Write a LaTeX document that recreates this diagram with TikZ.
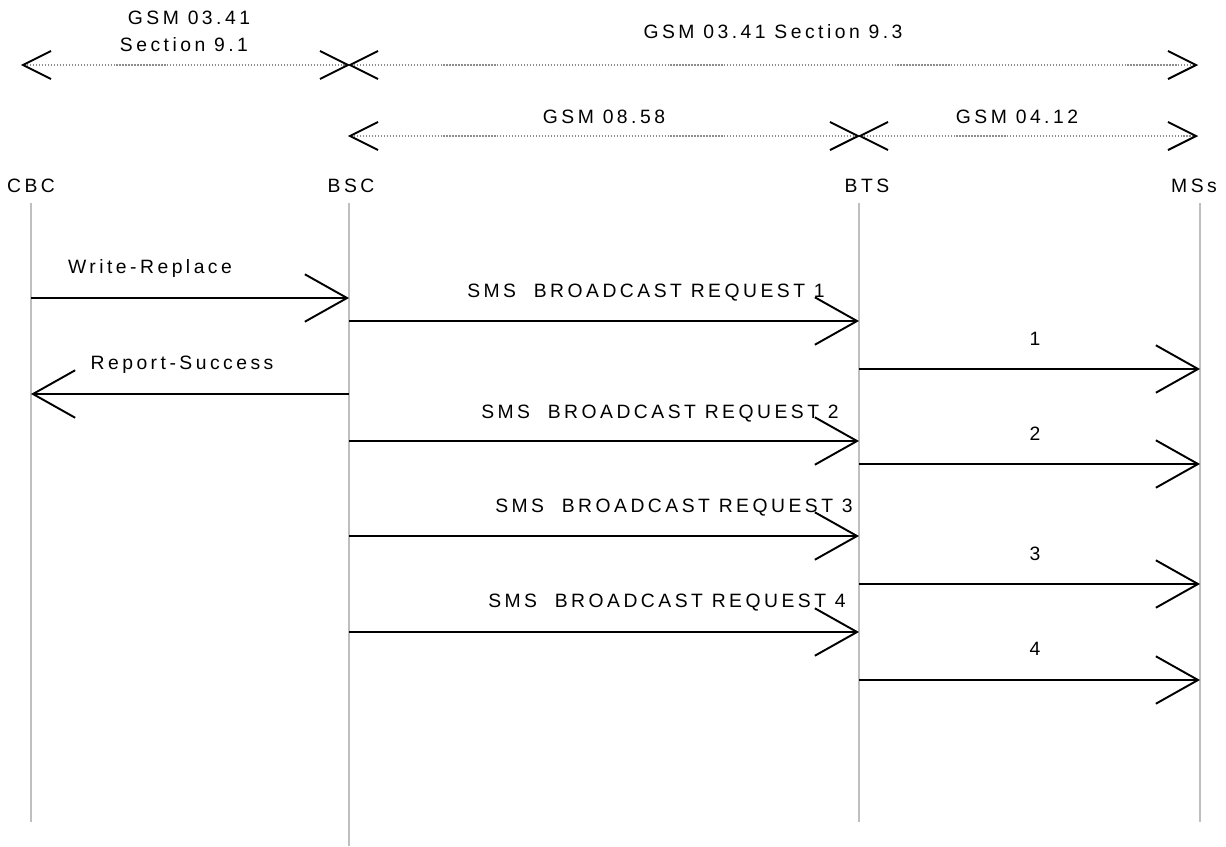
\documentclass[tikz,border=0pt]{standalone}
\usepackage{fontspec}
\setmainfont{Liberation Sans}[LetterSpace=18]
\usetikzlibrary{arrows.meta}

\begin{document}
\begin{tikzpicture}[x=0.02cm,y=-0.02cm,
    font=\fontsize{11}{13}\selectfont,
    entity/.style={anchor=base,inner sep=0pt},
    lbl/.style={anchor=base,inner sep=0pt,align=center},
    lifeline/.style={line width=1.1pt,black!25},
    spec/.style={{Straight Barb[length=16pt,width=16pt,line width=1.1pt,black]}-{Straight Barb[length=16pt,width=16pt,line width=1.1pt,black]},
                 densely dotted,line width=0.7pt,black!45,shorten <=-0.7pt,shorten >=-0.7pt},
    msg/.style={-{Straight Barb[length=24pt,width=27pt,line width=1.1pt]},line width=1.1pt},
]
\useasboundingbox (0,0) rectangle (1226,846);

% entities
\node[entity] (CBC) at (31,192)   {CBC};
\node[entity] (BSC) at (351,192)  {BSC};
\node[entity] (BTS) at (867,192)  {BTS};
\node[entity] (MS)  at (1194,192) {MSs};

% lifelines
\coordinate (cbcT) at (31,203);   \coordinate (cbcB) at (31,822);
\coordinate (bscT) at (349,203);  \coordinate (bscB) at (349,846);
\coordinate (btsT) at (859,203);  \coordinate (btsB) at (859,822);
\coordinate (msT)  at (1200,203); \coordinate (msB)  at (1200,822);
\foreach \e in {cbc,bsc,bts,ms}
  \draw[lifeline] (\e T) -- (\e B);

% specification ranges
\coordinate (s1a) at (22,65);   \coordinate (s1b) at (349,65);  \coordinate (s1c) at (1197,65);
\coordinate (s2a) at (349,136); \coordinate (s2b) at (859,136); \coordinate (s2c) at (1197,136);
\draw[spec] (s1a) -- (s1b);
\draw[spec] (s1b) -- (s1c);
\draw[spec] (s2a) -- (s2b);
\draw[spec] (s2b) -- (s2c);
\node[lbl] (g1) at (189,24)  {GSM 03.41};
\node[lbl] (g2) at (184,51)  {Section 9.1};
\node[lbl] (g3) at (773,38)  {GSM 03.41 Section 9.3};
\node[lbl] (g4) at (604,123) {GSM 08.58};
\node[lbl] (g5) at (1017,123) {GSM 04.12};

% message rows
\coordinate (r1) at (0,298); \coordinate (r2) at (0,321); \coordinate (r3) at (0,369);
\coordinate (r4) at (0,394); \coordinate (r5) at (0,441); \coordinate (r6) at (0,464);
\coordinate (r7) at (0,536); \coordinate (r8) at (0,584); \coordinate (r9) at (0,632);
\coordinate (r10) at (0,680);

% messages
\draw[msg] (cbcT |- r1) -- (bscT |- r1);
\node[lbl] (m1) at (150,273) {Write-Replace};
\draw[msg] (bscT |- r2) -- (btsT |- r2);
\node[lbl] (m2) at (646,297) {SMS~~BROADCAST REQUEST 1};
\draw[msg] (btsT |- r3) -- (msT |- r3);
\node[lbl] (m3) at (1035,345) {1};
\draw[msg] (bscT |- r4) -- (cbcT |- r4);
\node[lbl] (m4) at (182,369) {Report-Success};
\draw[msg] (bscT |- r5) -- (btsT |- r5);
\node[lbl] (m5) at (660,418) {SMS~~BROADCAST REQUEST 2};
\draw[msg] (btsT |- r6) -- (msT |- r6);
\node[lbl] (m6) at (1035,440) {2};
\draw[msg] (bscT |- r7) -- (btsT |- r7);
\node[lbl] (m7) at (674,512) {SMS~~BROADCAST REQUEST 3};
\draw[msg] (btsT |- r8) -- (msT |- r8);
\node[lbl] (m8) at (1035,560) {3};
\draw[msg] (bscT |- r9) -- (btsT |- r9);
\node[lbl] (m9) at (667,607) {SMS~~BROADCAST REQUEST 4};
\draw[msg] (btsT |- r10) -- (msT |- r10);
\node[lbl] (m10) at (1035,655) {4};

\end{tikzpicture}
\end{document}
